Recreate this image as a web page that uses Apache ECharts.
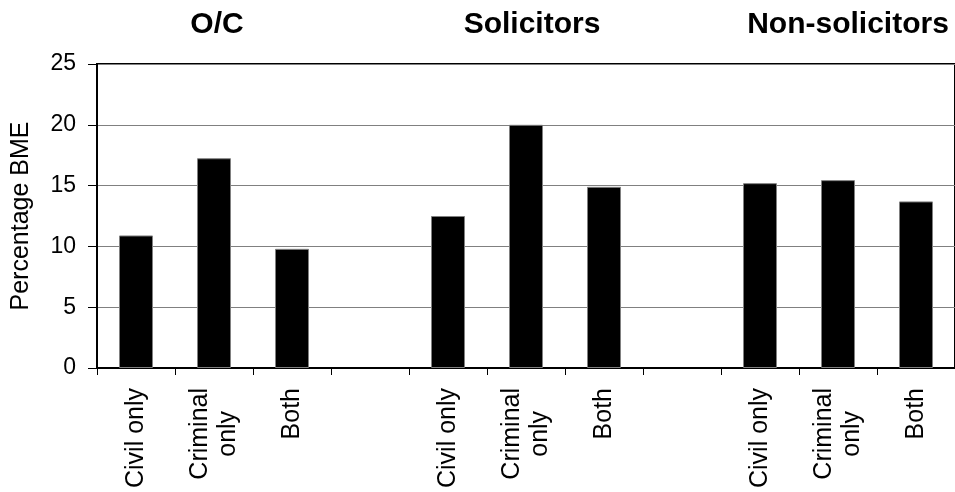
<!DOCTYPE html>
<html>
<head>
<meta charset="utf-8">
<script src="https://cdn.jsdelivr.net/npm/echarts@6/dist/echarts.min.js"></script>
<style>
  html, body { margin: 0; padding: 0; background: #fff; }
  #chart { width: 955px; height: 492px; }
</style>
</head>
<body>
<div id="chart"></div>
<script>
// ---- data ----
const categories = ['Civil only', 'Criminal only', 'Both', '', 'Civil only', 'Criminal only', 'Both', '', 'Civil only', 'Criminal only', 'Both'];
const percentageBME = [10.9, 17.25, 9.8, null, 12.5, 20.0, 14.9, null, 15.2, 15.45, 13.7];
const groupTitles = ['O/C', 'Solicitors', 'Non-solicitors'];
const yTicks = [0, 5, 10, 15, 20, 25];
const yAxisName = 'Percentage BME';

const FONT = '"Liberation Sans", Arial, Helvetica, sans-serif';
const titleX = [217, 532, 848];

const chart = echarts.init(document.getElementById('chart'), null, { renderer: 'canvas' });

chart.setOption({
  animation: false,
  backgroundColor: '#ffffff',
  grid: {
    left: 97, right: -2, top: 64, bottom: 124,
    show: true, borderColor: '#000', borderWidth: 2, backgroundColor: 'transparent'
  },
  graphic: groupTitles.map((t, i) => ({
    type: 'text',
    x: titleX[i],
    y: 25,
    style: {
      text: t,
      font: 'bold 30px ' + FONT,
      fill: '#000',
      textAlign: 'center',
      textVerticalAlign: 'middle'
    }
  })),
  xAxis: {
    type: 'category',
    data: categories,
    boundaryGap: true,
    axisLine: { show: true, lineStyle: { color: '#000', width: 2 } },
    axisTick: { show: true, length: 7, lineStyle: { color: '#000', width: 1 }, interval: 0 },
    splitLine: { show: false },
    axisLabel: {
      interval: 0,
      rotate: 90,
      margin: 20,
      color: '#000',
      fontFamily: FONT,
      fontSize: 25,
      formatter: function (v) {
        if (!v) return '';
        const words = v.split(' ');
        if (v === 'Criminal only') return '{c|' + words[0] + '}\n{c|' + words[1] + '}';
        return '{c|' + v + '}';
      },
      rich: {
        c: { align: 'center', fontSize: 25, fontFamily: FONT, color: '#000', lineHeight: 28 }
      }
    }
  },
  yAxis: {
    type: 'value',
    min: yTicks[0],
    max: yTicks[yTicks.length - 1],
    interval: 5,
    name: yAxisName,
    nameLocation: 'middle',
    nameRotate: 90,
    nameGap: 63,
    nameTextStyle: { color: '#000', fontFamily: FONT, fontSize: 25 },
    axisLine: { show: true, lineStyle: { color: '#000', width: 2 } },
    axisTick: { show: true, length: 9, lineStyle: { color: '#000', width: 1 } },
    axisLabel: { color: '#000', fontFamily: FONT, fontSize: 23, margin: 21 },
    splitLine: { show: true, lineStyle: { color: '#808080', width: 1 } }
  },
  series: [{
    type: 'bar',
    data: percentageBME,
    barWidth: 34,
    itemStyle: { color: '#000', borderColor: '#808080', borderWidth: 1 }
  }]
});
</script>
</body>
</html>
